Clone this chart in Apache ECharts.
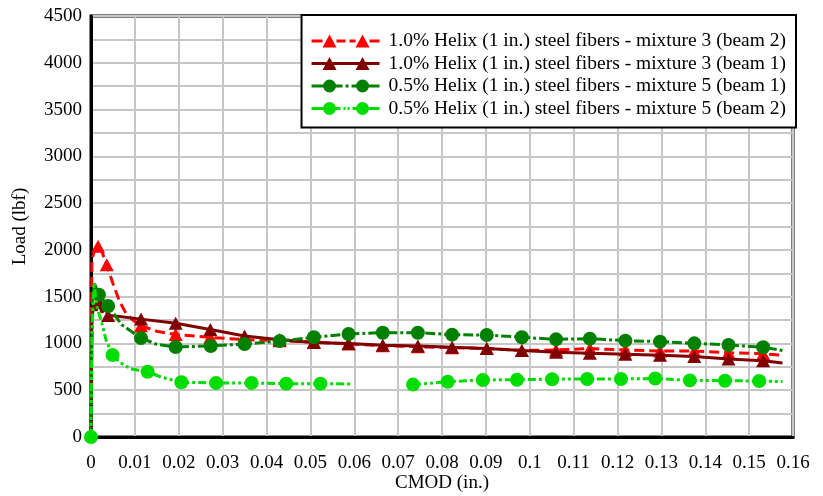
<!DOCTYPE html>
<html>
<head>
<meta charset="utf-8">
<title>Load vs CMOD</title>
<script src="https://cdn.jsdelivr.net/npm/echarts@6/dist/echarts.min.js"></script>
<style>
  html, body { margin: 0; padding: 0; background: #ffffff; }
  #chart { width: 823px; height: 496px; }
</style>
</head>
<body>
<div id="chart"></div>
<script>
// Axis ranges and tick spacing
const cmodRange = [0, 0.16];
const cmodStep = 0.01;
const loadRange = [0, 4500];
const loadStep = 500;

// Series names as shown in the legend
const seriesNames = [
  '1.0% Helix (1 in.) steel fibers - mixture 3 (beam 2)',
  '1.0% Helix (1 in.) steel fibers - mixture 3 (beam 1)',
  '0.5% Helix (1 in.) steel fibers - mixture 5 (beam 1)',
  '0.5% Helix (1 in.) steel fibers - mixture 5 (beam 2)'
];

// 1.0% Helix, mixture 3, beam 2
const mix3Beam2Cmod = [0, 0.0002, 0.0008, 0.0016, 0.0025, 0.0036, 0.005, 0.0065, 0.008, 0.0095, 0.0114, 0.015, 0.0193, 0.0272, 0.035, 0.043, 0.0508, 0.0587, 0.0665, 0.0745, 0.0823, 0.0902, 0.0982, 0.106, 0.1137, 0.1218, 0.1297, 0.1375, 0.1453, 0.1532, 0.1576];
const mix3Beam2Load = [0, 1900, 1990, 2040, 1980, 1840, 1640, 1450, 1320, 1250, 1190, 1130, 1095, 1065, 1040, 1030, 1015, 995, 975, 965, 955, 945, 925, 930, 945, 930, 920, 920, 900, 890, 875];
const mix3Beam2Marks = [0.0016, 0.0036, 0.0114, 0.0193, 0.0272, 0.035, 0.043, 0.0508, 0.0587, 0.0665, 0.0745, 0.0823, 0.0902, 0.0982, 0.106, 0.1137, 0.1218, 0.1297, 0.1375, 0.1453, 0.1532];

// 1.0% Helix, mixture 3, beam 1
const mix3Beam1Cmod = [0, 0.0002, 0.0006, 0.0012, 0.0018, 0.0025, 0.0032, 0.0039, 0.006, 0.0114, 0.0193, 0.0272, 0.035, 0.043, 0.0508, 0.0587, 0.0665, 0.0745, 0.0823, 0.0902, 0.0982, 0.106, 0.1137, 0.1218, 0.1297, 0.1375, 0.1453, 0.1532, 0.1576];
const mix3Beam1Load = [0, 1250, 1420, 1350, 1440, 1330, 1390, 1300, 1290, 1260, 1215, 1150, 1080, 1040, 1010, 1000, 982, 972, 958, 945, 925, 905, 895, 885, 875, 860, 835, 815, 790];
const mix3Beam1Marks = [0.0018, 0.0039, 0.0114, 0.0193, 0.0272, 0.035, 0.043, 0.0508, 0.0587, 0.0665, 0.0745, 0.0823, 0.0902, 0.0982, 0.106, 0.1137, 0.1218, 0.1297, 0.1375, 0.1453, 0.1532];

// 0.5% Helix, mixture 5, beam 1
const mix5Beam1Cmod = [0, 0.0003, 0.0008, 0.0018, 0.0039, 0.007, 0.0114, 0.015, 0.0193, 0.0273, 0.035, 0.043, 0.0508, 0.0587, 0.0665, 0.0745, 0.0823, 0.0902, 0.0982, 0.106, 0.1137, 0.1218, 0.1297, 0.1375, 0.1453, 0.1532, 0.1576];
const mix5Beam1Load = [0, 1450, 1640, 1520, 1400, 1200, 1058, 990, 962, 973, 994, 1025, 1066, 1101, 1115, 1115, 1094, 1090, 1066, 1044, 1051, 1030, 1019, 1001, 983, 959, 925];
const mix5Beam1Marks = [0.0018, 0.0039, 0.0114, 0.0193, 0.0273, 0.035, 0.043, 0.0508, 0.0587, 0.0665, 0.0745, 0.0823, 0.0902, 0.0982, 0.106, 0.1137, 0.1218, 0.1297, 0.1375, 0.1453, 0.1532];

// 0.5% Helix, mixture 5, beam 2 (null = no reading recorded)
const mix5Beam2Cmod = [0, 0.0002, 0.0007, 0.0013, 0.0027, 0.0034, 0.0049, 0.0065, 0.0091, 0.0129, 0.016, 0.0206, 0.0285, 0.0366, 0.0445, 0.0523, 0.0593, 0.066, 0.0734, 0.0813, 0.0893, 0.0971, 0.1051, 0.1131, 0.1208, 0.1286, 0.1365, 0.1445, 0.1523, 0.1576];
const mix5Beam2Load = [0, 1100, 1650, 1400, 1180, 1040, 877, 800, 727, 698, 640, 585, 578, 578, 570, 570, 567, null, 560, 590, 610, 612, 618, 620, 620, 625, 605, 602, 598, 592];
const mix5Beam2Marks = [0, 0.0049, 0.0129, 0.0206, 0.0285, 0.0366, 0.0445, 0.0523, 0.0734, 0.0813, 0.0893, 0.0971, 0.1051, 0.1131, 0.1208, 0.1286, 0.1365, 0.1445, 0.1523];

const colors = ['#ff0000', '#800000', '#008000', '#00dd00'];

// Legend glyphs: two markers joined by the series' line pattern
const triA = 'M11 13L18 0L25 13Z', triB = 'M44 13L51 0L58 13Z';
const dotA = 'M11.5 6.5A6.5 6.5 0 1 1 24.5 6.5A6.5 6.5 0 1 1 11.5 6.5Z';
const dotB = 'M44.5 6.5A6.5 6.5 0 1 1 57.5 6.5A6.5 6.5 0 1 1 44.5 6.5Z';
const legendIcons = [
  'path://M0 5h11v3h-11Z' + triA + 'M25 5h9v3h-9ZM38 5h6v3h-6Z' + triB + 'M58 5h10v3h-10Z',
  'path://M0 5h68v3h-68Z' + triA + triB,
  'path://M0 5h12v3h-12Z' + dotA + 'M24 5h7v3h-7ZM34 5h3v3h-3ZM40 5h5v3h-5Z' + dotB + 'M57 5h11v3h-11Z',
  'path://M0 5h12v3h-12Z' + dotA + 'M24 5h5v3h-5ZM32 5h2v3h-2ZM36 5h2v3h-2ZM41 5h4v3h-4Z' + dotB + 'M57 5h11v3h-11Z'
];

function buildPoints(cmod, load, marks, symbol) {
  return cmod.map((x, i) => ({
    value: [x, load[i] === null ? '-' : load[i]],
    symbol: marks.includes(x) ? symbol : 'none'
  }));
}

const font = 'Liberation Serif, Times New Roman, serif';
const axisFontSize = 19;
const legendFontSize = 19.5;

function lineSeries(idx, cmod, load, marks, symbol, size, lineType) {
  return {
    name: seriesNames[idx],
    type: 'line',
    data: buildPoints(cmod, load, marks, symbol),
    symbol: symbol,
    symbolSize: size,
    showSymbol: true,
    showAllSymbol: true,
    connectNulls: false,
    clip: false,
    smooth: false,
    color: colors[idx],
    lineStyle: { color: colors[idx], width: 3, type: lineType },
    itemStyle: { color: colors[idx], borderWidth: 0 },
    emphasis: { disabled: true },
    animation: false,
    z: 2 + idx
  };
}

const chart = echarts.init(document.getElementById('chart'), null, { renderer: 'canvas' });

chart.setOption({
  backgroundColor: '#ffffff',
  animation: false,
  textStyle: { fontFamily: font, color: '#000' },
  grid: {
    left: 91, right: 30, top: 16, bottom: 59,
    show: true, borderColor: '#000', borderWidth: 3,
    backgroundColor: 'transparent',
    containLabel: false,
    outerBoundsMode: 'none'
  },
  legend: {
    right: 27, top: 15,
    orient: 'vertical',
    itemWidth: 68, itemHeight: 13,
    itemGap: 2.5,
    padding: [16, 10, 9, 10],
    backgroundColor: '#ffffff',
    borderColor: '#000', borderWidth: 2,
    selectedMode: false,
    textStyle: { fontFamily: font, fontSize: legendFontSize, color: '#000', padding: [0, 0, 0, 4] },
    data: seriesNames.map((n, i) => ({ name: n, icon: legendIcons[i] }))
  },
  xAxis: {
    type: 'value',
    min: cmodRange[0], max: cmodRange[1], interval: cmodStep,
    name: 'CMOD (in.)', nameLocation: 'middle', nameGap: 37,
    nameMoveOverlap: false,
    nameTextStyle: { fontFamily: font, fontSize: axisFontSize, color: '#000' },
    axisLine: { show: true, onZero: false, lineStyle: { color: '#000', width: 3 } },
    axisTick: { show: false },
    axisLabel: { fontFamily: font, fontSize: axisFontSize, color: '#000', margin: 17,
      formatter: v => String(Math.round(v * 100) / 100) },
    splitLine: { show: true, lineStyle: { color: '#c6c6c6', width: 2 } }
  },
  yAxis: {
    type: 'value',
    min: loadRange[0], max: loadRange[1], interval: loadStep,
    name: 'Load (lbf)', nameLocation: 'middle', nameGap: 61,
    nameMoveOverlap: false,
    nameTextStyle: { fontFamily: font, fontSize: axisFontSize, color: '#000' },
    axisLine: { show: true, onZero: false, lineStyle: { color: '#000', width: 3 } },
    axisTick: { show: false },
    axisLabel: { fontFamily: font, fontSize: axisFontSize, color: '#000', margin: 9,
      formatter: v => String(v) },
    splitLine: { show: true, lineStyle: { color: '#c6c6c6', width: 2 } },
    minorTick: { show: false, splitNumber: 2 },
    minorSplitLine: { show: true, lineStyle: { color: '#c6c6c6', width: 2 } }
  },
  series: [
    lineSeries(0, mix3Beam2Cmod, mix3Beam2Load, mix3Beam2Marks, 'triangle', [14, 13], [10, 5]),
    lineSeries(1, mix3Beam1Cmod, mix3Beam1Load, mix3Beam1Marks, 'triangle', [14, 13], 'solid'),
    lineSeries(2, mix5Beam1Cmod, mix5Beam1Load, mix5Beam1Marks, 'circle', 14, [10, 3, 3, 3]),
    lineSeries(3, mix5Beam2Cmod, mix5Beam2Load, mix5Beam2Marks, 'circle', 14, [8, 3, 3, 3, 3, 3])
  ]
});
</script>
</body>
</html>
